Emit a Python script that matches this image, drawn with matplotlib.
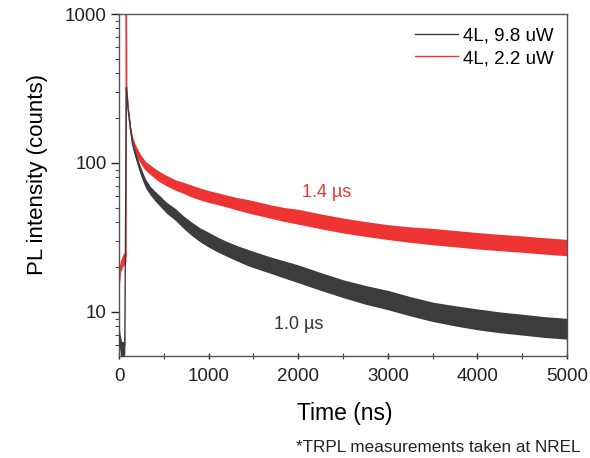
import matplotlib
matplotlib.use("Agg")
import matplotlib.pyplot as plt
import numpy as np

plt.rcParams['font.family'] = ['Liberation Sans', 'DejaVu Sans']

# ---- data ----
black_t = [0, 15, 30, 50, 65, 75, 82, 90, 100, 112, 130, 150, 175, 200, 230, 260, 300, 350,
           400, 450, 530, 630, 720, 800, 900, 1000, 1100, 1200, 1325, 1450, 1575, 1700, 1850,
           2000, 2250, 2500, 2750, 3000, 3250, 3500, 3750, 4000, 4250, 4500, 4750, 5000]
black_v = [7, 6, 5.5, 5.5, 6, 60, 320, 280, 235, 205, 165, 135, 118, 105, 92, 82, 72, 65,
           60, 56, 50, 45, 40, 36.5, 33, 30.5, 28.3, 26.5, 24.6, 23, 21.7, 20.5, 19.2,
           18, 16, 14.3, 13, 12, 10.9, 10, 9.4, 8.9, 8.5, 8.2, 7.9, 7.7]
black_spread = [0.06, 0.06, 0.06, 0.06, 0.06, 0.0, 0.0, 0.005, 0.01, 0.015, 0.018, 0.02, 0.022,
                0.025, 0.027, 0.03, 0.03, 0.03, 0.033, 0.035, 0.037, 0.04, 0.042, 0.045, 0.047,
                0.05, 0.05, 0.05, 0.052, 0.055, 0.055, 0.055, 0.058, 0.06, 0.06, 0.06, 0.063,
                0.065, 0.065, 0.065, 0.068, 0.07, 0.07, 0.07, 0.07, 0.07]

red_t = [0, 15, 40, 70, 78, 82, 86, 100, 112, 130, 150, 175, 200, 230, 260, 300, 350,
         400, 450, 530, 630, 720, 800, 900, 1000, 1100, 1200, 1325, 1450, 1575, 1700, 1850,
         2000, 2250, 2500, 2750, 3000, 3250, 3500, 3750, 4000, 4250, 4500, 4750, 5000]
red_v = [15, 20, 22, 23, 24, 1500, 330, 240, 205, 165, 142, 128, 118, 109, 102, 95, 90,
         85, 81, 76, 71, 68, 65, 62, 59.5, 57.5, 55.5, 53, 51, 49, 47, 45,
         43.5, 40.5, 38, 36, 34.3, 33, 32, 31, 30, 29.2, 28.5, 27.7, 27]
red_spread = [0.03, 0.04, 0.04, 0.04, 0.04, 0.0, 0.0, 0.015, 0.02, 0.022, 0.025, 0.027, 0.03,
              0.03, 0.03, 0.03, 0.032, 0.033, 0.035, 0.035, 0.035, 0.037, 0.04, 0.04, 0.04,
              0.04, 0.04, 0.042, 0.045, 0.045, 0.045, 0.047, 0.05, 0.05, 0.05, 0.05, 0.05,
              0.052, 0.055, 0.055, 0.055, 0.055, 0.055, 0.055, 0.055]

labels = ["4L, 9.8 uW", "4L, 2.2 uW"]
annot_black = "1.0 µs"
annot_red = "1.4 µs"
x_ticks = [0, 1000, 2000, 3000, 4000, 5000]

black_col = "#3c3c3c"
red_col = "#ee3333"

fig = plt.figure(figsize=(5.90, 4.58), dpi=100)
ax = fig.add_axes([119/590, 1-356/458, 448/590, 342/458])

def draw(t, v, s, col, lab, z):
    t = np.array(t, float); v = np.array(v, float); s = np.array(s, float)
    lo = v / 10**s
    hi = v * 10**s
    ax.fill_between(t, lo, hi, color=col, lw=0, zorder=z)
    ax.plot(t, v, color=col, lw=1.0, zorder=z, label=lab)

draw(black_t, black_v, black_spread, black_col, labels[0], 3)
draw(red_t, red_v, red_spread, red_col, labels[1], 2)

ax.set_yscale('log')
ax.set_ylim(5.05, 1000)
ax.set_xlim(0, 5000)
ax.set_xticks(x_ticks)
ax.set_xticks(np.arange(500, 5000, 1000), minor=True)
ax.set_yticks([10, 100, 1000])
ax.set_yticklabels(["10", "100", "1000"])

ax.tick_params(axis='y', which='major', direction='out', length=6, width=1, labelsize=13.5, pad=3, colors='#222222')
ax.tick_params(axis='y', which='minor', direction='out', length=3, width=0.8, colors='#444444')
ax.tick_params(axis='x', which='major', direction='inout', length=5, width=1, labelsize=13.5, pad=6, colors='#222222')
ax.tick_params(axis='x', which='minor', direction='inout', length=4, width=0.8, colors='#444444')
for sp in ax.spines.values():
    sp.set_color('#555555')
    sp.set_linewidth(1.0)

ax.set_xlabel("Time (ns)", fontsize=16.5)
ax.set_ylabel("PL intensity (counts)", fontsize=16)
ax.xaxis.set_label_coords(0.505, -0.135)
ax.yaxis.set_label_coords(-0.158, 0.53)

ax.text(2321, 63.5, annot_red, color=red_col, fontsize=13, ha='center', va='center')
ax.text(2009, 8.2, annot_black, color='#333333', fontsize=13, ha='center', va='center')

leg = ax.legend(loc='upper right', frameon=False, fontsize=13.5, handlelength=2.3,
                handletextpad=0.25, labelspacing=0.3, borderaxespad=0.3,
                bbox_to_anchor=(1.0, 1.0))
for h in leg.get_lines():
    h.set_linewidth(1.0)

fig.text(296/590, 1-448/458, "*TRPL measurements taken at NREL", fontsize=12.3,
         ha='left', va='center', color='#222222')

fig.savefig("out.png", dpi=100)
